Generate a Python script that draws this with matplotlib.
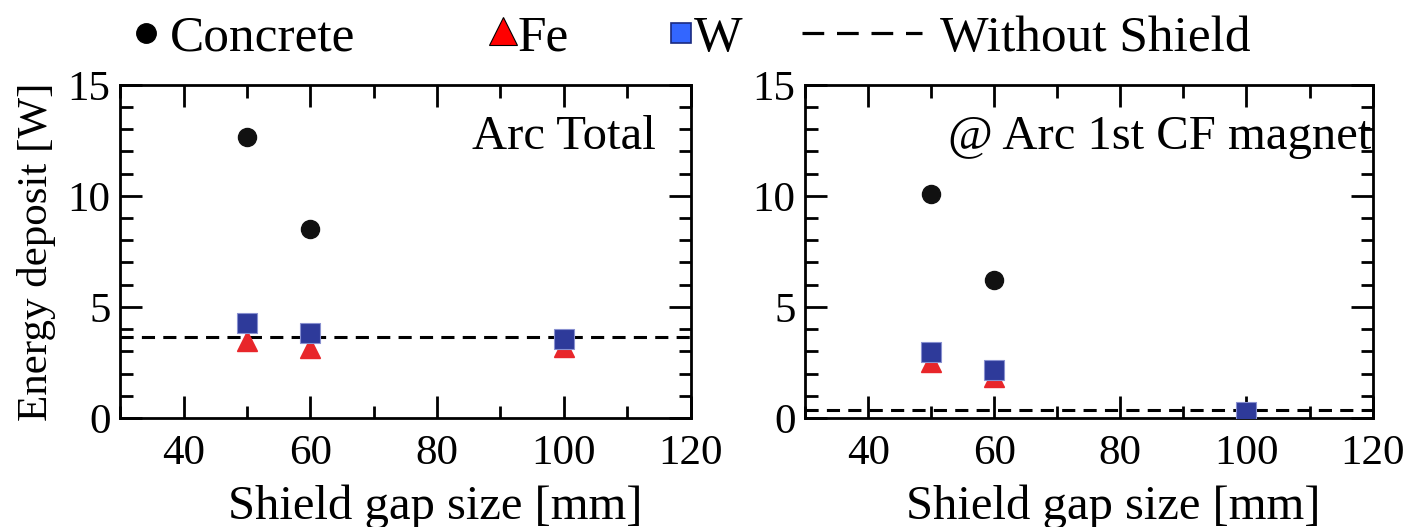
import matplotlib
matplotlib.use("Agg")
import matplotlib.pyplot as plt
from matplotlib.lines import Line2D
from matplotlib.ticker import MultipleLocator

plt.rcParams['font.family'] = ['Liberation Serif', 'DejaVu Serif']

gap = [50, 60, 100]
gap_c = [50, 60]
total_concrete = [12.65, 8.5]
total_fe = [3.48, 3.16, 3.2]
total_w = [4.26, 3.82, 3.57]
total_noshield = 3.63

mag_concrete = [10.1, 6.2]
mag_fe = [2.5, 1.84, 0.2]
mag_w = [2.98, 2.18, 0.25]
mag_noshield = 0.34

panel_titles = ["Arc Total", "@ Arc 1st CF magnet"]
xlabel = "Shield gap size [mm]"
ylabel = "Energy deposit [W]"
legend_labels = ["Concrete", "Fe", "W", "Without Shield"]

W, H = 1415, 527
fig = plt.figure(figsize=(W / 100, H / 100), dpi=100)
axL = fig.add_axes([0.085, 0.207, 0.403, 0.632])
axR = fig.add_axes([0.569, 0.207, 0.401, 0.632])

c_conc = '#111111'
c_fe = '#e8262a'
c_w = '#2e3a9a'
dash = (0, (4.3, 2.7))

datasets = [(axL, total_concrete, total_fe, total_w, total_noshield),
            (axR, mag_concrete, mag_fe, mag_w, mag_noshield)]
for ax, conc, fe, w, ns in datasets:
    ax.axhline(ns, color='black', ls=dash, lw=2.2, zorder=2)
    ax.plot(gap_c, conc, 'o', color=c_conc, ms=13, ls='none', zorder=3)
    ax.plot(gap, fe, '^', color=c_fe, ms=14, ls='none', zorder=3)
    ax.plot(gap, w, 's', color=c_w, mec='#8890d0', mew=0.8, ms=14, ls='none', zorder=4)
    ax.set_xlim(30, 120)
    ax.set_ylim(0, 15)
    ax.xaxis.set_major_locator(MultipleLocator(20))
    ax.xaxis.set_minor_locator(MultipleLocator(10))
    ax.yaxis.set_major_locator(MultipleLocator(5))
    ax.yaxis.set_minor_locator(MultipleLocator(1))
    ax.tick_params(which='both', direction='in', top=True, right=True, width=2, labelsize=31)
    ax.tick_params(axis='x', which='major', pad=12)
    ax.tick_params(axis='y', which='major', pad=7)
    ax.tick_params(which='major', length=16)
    ax.tick_params(which='minor', length=9)
    for s in ax.spines.values():
        s.set_linewidth(2)
    ax.set_xlabel(xlabel, fontsize=35, labelpad=8)

axL.xaxis.label.set_x(0.553)
axR.xaxis.label.set_x(0.543)

axL.set_ylabel(ylabel, fontsize=31, labelpad=8)
axL.text(0.94, 0.808, panel_titles[0], transform=axL.transAxes, ha='right', va='baseline', fontsize=35)
axR.text(0.998, 0.808, panel_titles[1], transform=axR.transAxes, ha='right', va='baseline', fontsize=35)

# legend row across the top (figure pixel positions)
ly = 1 - 33 / H
def fx(px):
    return px / W

fig.add_artist(Line2D([fx(146)], [ly], transform=fig.transFigure, marker='o', color='black', ms=14, ls='none'))
fig.add_artist(Line2D([fx(503)], [ly + 0.004], transform=fig.transFigure, marker='^', color='#ff0000',
                      mec='black', mew=0.8, ms=20, ls='none'))
fig.add_artist(Line2D([fx(681)], [ly], transform=fig.transFigure, marker='s', color='#3366ff',
                      mec='#1a2a80', mew=1.2, ms=14, ls='none'))
fig.add_artist(Line2D([fx(802), fx(922)], [ly, ly], transform=fig.transFigure, color='black',
                      ls=(0, (6.8, 4.0)), lw=2.3))
text_x = [170, 518, 694, 940]
for tx, lab in zip(text_x, legend_labels):
    fig.text(fx(tx), ly, lab, ha='left', va='center_baseline', fontsize=37)

fig.savefig("out.png", dpi=100)
